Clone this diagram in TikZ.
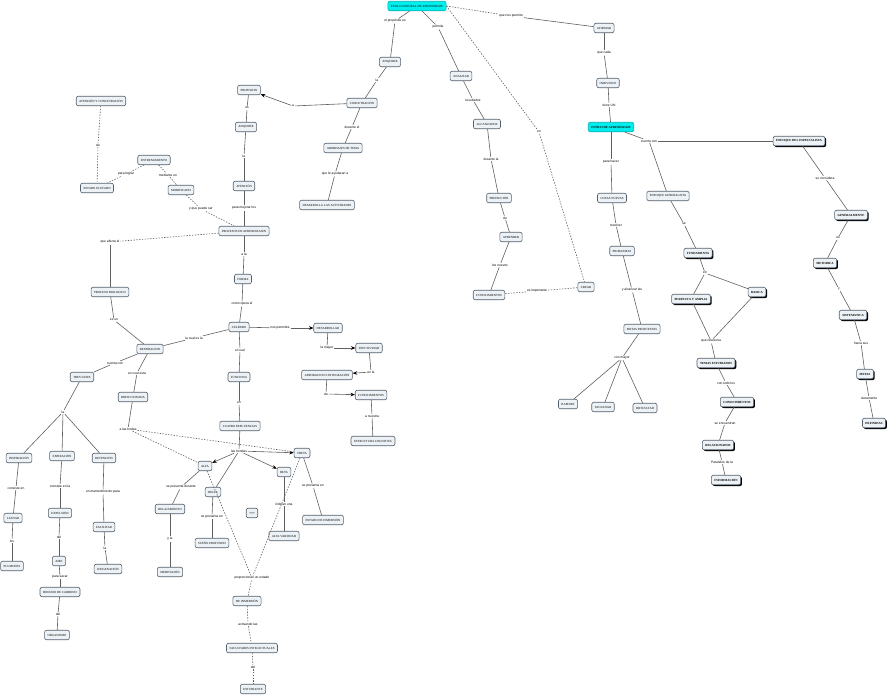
\documentclass[tikz,border=0pt]{standalone}
\usepackage{fontspec}
\setmainfont{Liberation Serif}
\setsansfont{Liberation Sans}
\usetikzlibrary{arrows.meta,%
                shadows}
\definecolor{fondo}{RGB}{236,242,246}
\definecolor{borde}{RGB}{84,96,108}
\definecolor{cian}{RGB}{0,238,238}
\definecolor{trazo}{RGB}{96,96,96}
\tikzstyle{concepto}=[rectangle, draw=borde, line width=0.6pt, fill=fondo, rounded corners=2pt, font=\fontsize{3.1}{3.5}\selectfont, inner xsep=3pt, inner ysep=0pt, minimum height=9.5pt]
\tikzstyle{sombra}=[concepto, font=\fontsize{3.1}{3.5}\selectfont\bfseries, drop shadow={shadow xshift=1.3pt, shadow yshift=-1.3pt, fill=black, opacity=1}]
\tikzstyle{resalte}=[concepto, fill=cian, draw=cian!75!black]
\tikzstyle{enlace}=[fill=white, inner sep=0.8pt, font=\sffamily\fontsize{3.3}{3.8}\selectfont]

\begin{document}
\begin{tikzpicture}[x=1pt,y=-1pt]
  \useasboundingbox (0,0) rectangle (890,696);
  \tikzstyle{linea}=[draw=trazo, line width=0.6pt]
  \tikzstyle{punteada}=[linea, dash pattern=on 1.4pt off 1.4pt]
  \tikzstyle{flecha}=[linea, -{Stealth[length=4.5pt,width=3.6pt,color=black]}]

  % conceptos de arriba
  \node[resalte] (estnat) at (417,6) {ESTILO NATURAL DE APRENDIZAJE};
  \node[concepto] (adq) at (390,62) {ADQUIRIR};
  \node[concepto] (conc) at (362,103) {CONCETRACIÓN};
  \node[concepto] (abord) at (343,148) {ABORDAJES DE TEMA};
  \node[concepto] (desact) at (327,205) {DESARROLLA LAS ACTIVIDADES};
  \node[concepto] (analiz) at (461,76) {ANALIZAR};
  \node[concepto] (alcanz) at (487,124) {ALCANZADOS};
  \node[concepto] (predic) at (499,198) {PREDICCIÓN};
  \node[concepto] (aprend) at (511,237) {APRENDER};
  \node[concepto] (conoc1) at (489,295) {CONOCIMIENTOS};
  \node[concepto] (crear) at (586,287) {CREAR};
  \node[concepto] (afirm) at (604,28) {AFIRMAR};
  \node[concepto] (indiv) at (608,83) {INDIVIDUO};
  \node[resalte] (estapr) at (611,127) {\bfseries ESTILO DE APRENDIZAJE};
  \node[concepto] (cosas) at (612,198) {COSAS NUEVAS};
  \node[concepto] (probl) at (622,251) {PROBLEMAS};
  \node[concepto] (metprop) at (642,329) {METAS PROPUESTAS};
  \node[concepto] (rapid) at (568,404) {RAPIDEZ};
  \node[concepto] (facil) at (603,407) {FACILIDAD};
  \node[concepto] (dific) at (645,408) {DIFICULTAD};
  \node[concepto] (enfgen) at (668,196) {ENFOQUE GENERALISTA};
  \node[sombra] (fund) at (698,253) {FUNDAMENTA};
  \node[sombra] (perfec) at (691,299) {PERFECTA Y AMPLIA};
  \node[sombra] (basica) at (757,292) {BASICA};
  \node[sombra] (temas) at (716,363) {TEMAS ESTUDIADOS};
  \node[sombra] (conoc2) at (737,402) {CONOCIMIENTOS};
  \node[sombra] (relac) at (718,445) {RELACIONADOS};
  \node[sombra] (inform) at (726,480) {INFORMACIÓN};
  \node[sombra] (enfesp) at (799,141) {ENFOQUE DEL ESPECIALISTA};
  \node[sombra] (general) at (851,215) {GENERALMENTE};
  \node[sombra] (metod) at (825,263) {METODICA};
  \node[sombra] (sistem) at (853,315) {SISTEMATICA};
  \node[sombra] (metas) at (865,374) {METAS};
  \node[sombra] (defin) at (874,423) {DEFINIDAS};

  % conceptos de la izquierda
  \node[concepto] (propos) at (249,90) {PROPOSITO};
  \node[concepto] (adq2) at (246,127) {ADQUIRIR};
  \node[concepto] (atenc) at (244,186) {ATENCIÓN};
  \node[concepto] (procap) at (244,231) {PROCESOS DE APRENDIZAJEN};
  \node[concepto] (atyconc) at (101,101) {ATENCIÓN Y CONCETRACIÓN};
  \node[concepto] (estelev) at (97,188) {ESTADO ELEVADO};
  \node[concepto] (entren) at (154,160) {ENTRENAMIENTO};
  \node[concepto] (modif) at (181,190) {MODIFICADO};
  \node[concepto] (procbio) at (110,292) {PROCESO BIOLOGICO};
  \node[concepto] (forma) at (243,279) {FORMA};
  \node[concepto] (celebro) at (239,327) {CELEBRO};
  \node[concepto] (respir) at (150,349) {RESPIRACION};
  \node[concepto] (desarr) at (328,328) {DESARROLLAR};
  \node[concepto] (efect) at (369,348) {EFECTIVIDAD};
  \node[concepto] (aprob) at (327,375) {APROBACION E INTEGRACIÓN};
  \node[concepto] (conoc3) at (371,395) {CONOCIMIENTOS};
  \node[concepto] (estcog) at (373,441) {ESTRUCTURA COGNITIVA};
  \node[concepto] (tresf) at (82,377) {TRES FASES};
  \node[concepto] (direc) at (133,397) {DIRECCIONADA};
  \node[concepto] (inspir) at (19,458) {INSPIRACIÓN};
  \node[concepto] (expir) at (62,456) {EXPIRACIÓN};
  \node[concepto] (reten) at (104,458) {RETENCIÓN};
  \node[concepto] (llenar) at (13,518) {LLENAR};
  \node[concepto] (pulm) at (12,566) {PULMONES};
  \node[concepto] (expul) at (60,513) {EXPULSIÓN};
  \node[concepto] (aire) at (59,561) {AIRE};
  \node[concepto] (bioxido) at (60,592) {BIOXIDO DE CARBONO};
  \node[concepto] (organ) at (57,635) {ORGANISMO};
  \node[concepto] (facilit) at (104,527) {FACILITAR};
  \node[concepto] (oxig) at (108,569) {OXIGENACIÓN};
  \node[concepto] (funciona) at (239,377) {FUNCIONA};
  \node[concepto] (cuatro) at (240,426) {CUATRO FRECUENCIAS};
  \node[concepto] (alfa) at (205,466) {ALFA};
  \node[concepto] (delta) at (213,492) {DELTA};
  \node[concepto] (beta) at (284,472) {BETA};
  \node[concepto] (theta) at (302,453) {THETA};
  \node[concepto] (relaj) at (170,509) {RELAJAMIENTO};
  \node[concepto] (medit) at (170,572) {MEDITACIÓN};
  \node[concepto] (sueno) at (212,543) {SUEÑO PROFUNDO};
  \node[concepto] (altavar) at (284,536) {ALTA VARIEDAD};
  \node[concepto] (estinm) at (323,520) {ESTADO DE INMERSIÓN};
  \node[concepto] (interr) at (252,513) {????};
  \node[concepto] (deinm) at (247,601) {DE INMERSIÓN};
  \node[concepto] (facult) at (252,648) {FACULTADES INTELECTUALES};
  \node[concepto] (estud) at (253,689) {ESTUDIANTE};

  % frases de enlace
  \node[enlace] (l1) at (395,21) {el propósito es};
  \node[enlace] (l2) at (438,27) {permite};
  \node[enlace] (l3) at (511,16) {que nos permite};
  \node[enlace] (l4) at (539,132) {en};
  \node[enlace] (l5) at (377,80) {la};
  \node[enlace] (l6) at (293,106) {a};
  \node[enlace] (l7) at (352,127) {durante el};
  \node[enlace] (l8) at (335,174) {que le ayudaran a};
  \node[enlace] (l9) at (473,100) {resultados};
  \node[enlace] (l10) at (491,159) {durante la};
  \node[enlace] (l11) at (505,218) {de};
  \node[enlace] (l12) at (500,265) {los nuevos};
  \node[enlace] (l13) at (537,291) {es importante};
  \node[enlace] (l14) at (604,53) {que cada};
  \node[enlace] (l15) at (609,105) {tiene UN};
  \node[enlace] (l16) at (649,141) {cuenta con};
  \node[enlace] (l17) at (611,162) {para hacer};
  \node[enlace] (l18) at (616,225) {resolver};
  \node[enlace] (l19) at (632,290) {y alcanzar las};
  \node[enlace] (l20) at (622,358) {con mayor};
  \node[enlace] (l21) at (684,224) {se};
  \node[enlace] (l22) at (705,273) {en};
  \node[enlace] (l23) at (711,341) {que relaciona};
  \node[enlace] (l24) at (726,383) {con todo los};
  \node[enlace] (l25) at (725,423) {se encuentran};
  \node[enlace] (l26) at (722,462) {Paralelos de la};
  \node[enlace] (l27) at (825,178) {se considera};
  \node[enlace] (l28) at (838,238) {es};
  \node[enlace] (l29) at (839,289) {y};
  \node[enlace] (l30) at (861,343) {hacia sus};
  \node[enlace] (l31) at (869,398) {claramente};
  \node[enlace] (l32) at (247,108) {es};
  \node[enlace] (l33) at (244,156) {la};
  \node[enlace] (l34) at (244,208) {para mejorar los};
  \node[enlace] (l35) at (98,145) {de};
  \node[enlace] (l36) at (126,174) {para lograr};
  \node[enlace] (l37) at (168,175) {mediante un};
  \node[enlace] (l38) at (201,209) {y que puede ser};
  \node[enlace] (l39) at (110,242) {que afecta el};
  \node[enlace] (l40) at (244,254) {a la};
  \node[enlace] (l41) at (242,304) {como opera el};
  \node[enlace] (l42) at (114,320) {es un};
  \node[enlace] (l43) at (194,338) {la cual es la};
  \node[enlace] (l44) at (280,328) {nos permitira};
  \node[enlace] (l45) at (327,348) {la mayor};
  \node[enlace] (l46) at (371,372) {en la};
  \node[enlace] (l47) at (326,394) {de};
  \node[enlace] (l48) at (372,416) {a nuestra};
  \node[enlace] (l49) at (240,350) {el cual};
  \node[enlace] (l50) at (239,403) {en};
  \node[enlace] (l51) at (239,451) {las hondas};
  \node[enlace] (l52) at (115,363) {cuenta con};
  \node[enlace] (l53) at (137,373) {en cual esta};
  \node[enlace] (l54) at (63,412) {la};
  \node[enlace] (l55) at (128,429) {a las hodas};
  \node[enlace] (l56) at (16,488) {consiste en};
  \node[enlace] (l57) at (12,541) {los};
  \node[enlace] (l58) at (60,486) {consiste en la};
  \node[enlace] (l59) at (59,537) {del};
  \node[enlace] (l60) at (60,577) {para sacar};
  \node[enlace] (l61) at (58,614) {del};
  \node[enlace] (l62) at (103,492) {en mantenimiento para};
  \node[enlace] (l63) at (105,548) {la};
  \node[enlace] (l64) at (181,487) {se presenta durante};
  \node[enlace] (l65) at (170,539) {y la};
  \node[enlace] (l66) at (212,517) {se presenta en};
  \node[enlace] (l67) at (284,504) {indican una};
  \node[enlace] (l68) at (313,486) {se presenta en};
  \node[enlace] (l69) at (252,578) {proporcionan un estado};
  \node[enlace] (l70) at (248,624) {activando las};
  \node[enlace] (l71) at (253,667) {del};

  % conexiones de arriba
  \draw[linea] (estnat) -- (l1); \draw[linea] (l1) -- (adq);
  \draw[linea] (estnat) -- (l2); \draw[linea] (l2) -- (analiz);
  \draw[punteada] (estnat.east) -- (l3); \draw[linea] (l3) -- (afirm);
  \draw[punteada] (estnat.east) -- (l4); \draw[punteada] (l4) -- (crear);
  \draw[linea] (adq) -- (l5); \draw[linea] (l5) -- (conc);
  \draw[linea] (conc) -- (l6); \draw[flecha] (l6) -- (propos);
  \draw[linea] (conc) -- (l7); \draw[linea] (l7) -- (abord);
  \draw[linea] (abord) -- (l8); \draw[linea] (l8) -- (desact);
  \draw[linea] (analiz) -- (l9); \draw[linea] (l9) -- (alcanz);
  \draw[linea] (alcanz) -- (l10); \draw[linea] (l10) -- (predic);
  \draw[linea] (predic) -- (l11); \draw[linea] (l11) -- (aprend);
  \draw[linea] (aprend) -- (l12); \draw[linea] (l12) -- (conoc1);
  \draw[punteada] (conoc1) -- (l13); \draw[punteada] (l13) -- (crear);
  \draw[linea] (afirm) -- (l14); \draw[linea] (l14) -- (indiv);
  \draw[linea] (indiv) -- (l15); \draw[linea] (l15) -- (estapr);
  \draw[linea] (estapr) -- (l16); \draw[linea] (l16) -- (enfesp);
  \draw[linea] (l16) -- (enfgen);
  \draw[linea] (estapr) -- (l17); \draw[linea] (l17) -- (cosas);
  \draw[linea] (cosas) -- (l18); \draw[linea] (l18) -- (probl);
  \draw[linea] (probl) -- (l19); \draw[linea] (l19) -- (metprop);
  \draw[linea] (metprop) -- (l20);
  \draw[linea] (l20) -- (rapid); \draw[linea] (l20) -- (facil); \draw[linea] (l20) -- (dific);
  \draw[linea] (enfgen) -- (l21); \draw[linea] (l21) -- (fund);
  \draw[linea] (fund) -- (l22);
  \draw[linea] (l22) -- (perfec); \draw[linea] (l22) -- (basica);
  \draw[linea] (perfec) -- (l23); \draw[linea] (basica) -- (l23); \draw[linea] (l23) -- (temas);
  \draw[linea] (temas) -- (l24); \draw[linea] (l24) -- (conoc2);
  \draw[linea] (conoc2) -- (l25); \draw[linea] (l25) -- (relac);
  \draw[linea] (relac) -- (l26); \draw[linea] (l26) -- (inform);
  \draw[linea] (enfesp) -- (l27); \draw[linea] (l27) -- (general);
  \draw[linea] (general) -- (l28); \draw[linea] (l28) -- (metod);
  \draw[linea] (metod) -- (l29); \draw[linea] (l29) -- (sistem);
  \draw[linea] (sistem) -- (l30); \draw[linea] (l30) -- (metas);
  \draw[linea] (metas) -- (l31); \draw[linea] (l31) -- (defin);

  % conexiones de la izquierda
  \draw[linea] (propos) -- (l32); \draw[linea] (l32) -- (adq2);
  \draw[linea] (adq2) -- (l33); \draw[linea] (l33) -- (atenc);
  \draw[linea] (atenc) -- (l34); \draw[linea] (l34) -- (procap);
  \draw[punteada] (atyconc) -- (l35); \draw[punteada] (l35) -- (estelev);
  \draw[punteada] (entren) -- (l36); \draw[punteada] (l36) -- (estelev);
  \draw[punteada] (entren) -- (l37); \draw[punteada] (l37) -- (modif);
  \draw[punteada] (modif) -- (l38); \draw[punteada] (l38) -- (procap);
  \draw[punteada] (procap) -- (l39); \draw[linea] (l39) -- (procbio);
  \draw[linea] (procap) -- (l40); \draw[linea] (l40) -- (forma);
  \draw[linea] (forma) -- (l41); \draw[linea] (l41) -- (celebro);
  \draw[linea] (procbio) -- (l42); \draw[linea] (l42) -- (respir);
  \draw[linea] (celebro) -- (l43); \draw[linea] (l43) -- (respir);
  \draw[linea] (celebro) -- (l44); \draw[flecha] (l44) -- (desarr);
  \draw[linea] (desarr) -- (l45); \draw[flecha] (l45) -- (efect);
  \draw[linea] (efect) -- (l46); \draw[flecha] (l46) -- (aprob);
  \draw[linea] (aprob) -- (l47); \draw[flecha] (l47) -- (conoc3);
  \draw[linea] (conoc3) -- (l48); \draw[linea] (l48) -- (estcog);
  \draw[linea] (celebro) -- (l49); \draw[linea] (l49) -- (funciona);
  \draw[linea] (funciona) -- (l50); \draw[linea] (l50) -- (cuatro);
  \draw[linea] (cuatro) -- (l51);
  \draw[flecha] (l51) -- (alfa); \draw[flecha] (l51) -- (beta); \draw[flecha] (l51) -- (theta);
  \draw[linea] (l51) -- (delta);
  \draw[linea] (respir) -- (l52); \draw[linea] (l52) -- (tresf);
  \draw[linea] (respir) -- (l53); \draw[linea] (l53) -- (direc);
  \draw[linea] (tresf) -- (l54);
  \draw[linea] (l54) -- (inspir); \draw[linea] (l54) -- (expir); \draw[linea] (l54) -- (reten);
  \draw[linea] (direc) -- (l55);
  \draw[punteada] (l55) -- (alfa); \draw[punteada] (l55) -- (theta);
  \draw[linea] (inspir) -- (l56); \draw[linea] (l56) -- (llenar);
  \draw[linea] (llenar) -- (l57); \draw[linea] (l57) -- (pulm);
  \draw[linea] (expir) -- (l58); \draw[linea] (l58) -- (expul);
  \draw[linea] (expul) -- (l59); \draw[linea] (l59) -- (aire);
  \draw[linea] (aire) -- (l60); \draw[linea] (l60) -- (bioxido);
  \draw[linea] (bioxido) -- (l61); \draw[linea] (l61) -- (organ);
  \draw[linea] (reten) -- (l62); \draw[linea] (l62) -- (facilit);
  \draw[linea] (facilit) -- (l63); \draw[linea] (l63) -- (oxig);
  \draw[linea] (alfa) -- (l64); \draw[linea] (l64) -- (relaj);
  \draw[linea] (relaj) -- (l65); \draw[linea] (l65) -- (medit);
  \draw[linea] (delta) -- (l66); \draw[linea] (l66) -- (sueno);
  \draw[linea] (beta) -- (l67); \draw[linea] (l67) -- (altavar);
  \draw[linea] (theta) -- (l68); \draw[linea] (l68) -- (estinm);
  \draw[punteada] (alfa) -- (l69); \draw[punteada] (theta) -- (l69);
  \draw[punteada] (l69) -- (deinm);
  \draw[punteada] (deinm) -- (l70); \draw[punteada] (l70) -- (facult);
  \draw[punteada] (facult) -- (l71); \draw[punteada] (l71) -- (estud);
\end{tikzpicture}
\end{document}
